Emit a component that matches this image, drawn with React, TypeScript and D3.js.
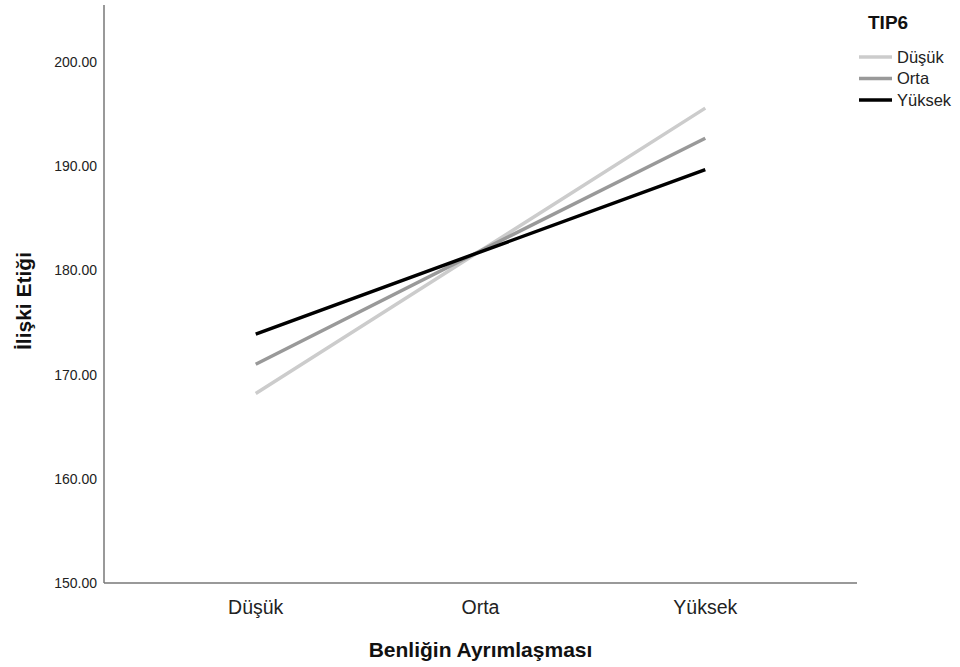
import { useEffect, useRef } from "react";
import * as d3 from "d3";

const categories = ["Düşük", "Orta", "Yüksek"];
const seriesNames = ["Düşük", "Orta", "Yüksek"];
const dusukValues = [168.2, 181.9, 195.6];
const ortaValues = [171.0, 181.9, 192.7];
const yuksekValues = [173.9, 181.8, 189.7];
const yTicks = [150, 160, 170, 180, 190, 200];
const seriesColors = ["#cccccc", "#999999", "#000000"];

const W = 960;
const H = 667;

const App = () => {
  const ref = useRef<SVGSVGElement>(null);

  useEffect(() => {
    const svg = d3.select(ref.current);
    svg.selectAll("*").remove();

    const left = 104, right = 857, top = 5, bottom = 583;
    const font = "'Liberation Sans', Arial, sans-serif";

    const x = d3.scalePoint<string>().domain(categories).range([left, right]).padding(0.675);
    const y = d3.scaleLinear().domain([150, 205.5]).range([bottom, top]);

    // axes
    svg.append("line")
      .attr("x1", left).attr("x2", left).attr("y1", top).attr("y2", bottom)
      .attr("stroke", "#777").attr("stroke-width", 1.5);
    svg.append("line")
      .attr("x1", left).attr("x2", right).attr("y1", bottom).attr("y2", bottom)
      .attr("stroke", "#777").attr("stroke-width", 1.5);

    svg.append("g").selectAll("text").data(yTicks).enter().append("text")
      .attr("x", left - 7).attr("y", (d) => y(d)).attr("dy", "0.35em")
      .attr("text-anchor", "end").attr("font-family", font).attr("font-size", 14)
      .attr("fill", "#222").text((d) => d.toFixed(2));

    svg.append("g").selectAll("text").data(categories).enter().append("text")
      .attr("x", (d) => x(d)!).attr("y", 614)
      .attr("text-anchor", "middle").attr("font-family", font).attr("font-size", 19.5)
      .attr("fill", "#222").text((d) => d);

    // axis titles
    svg.append("text")
      .attr("x", (left + right) / 2).attr("y", 657)
      .attr("text-anchor", "middle").attr("font-family", font).attr("font-size", 21)
      .attr("font-weight", "bold").attr("fill", "#111").text("Benliğin Ayrımlaşması");
    svg.append("text")
      .attr("transform", `translate(31, 301) rotate(-90)`)
      .attr("text-anchor", "middle").attr("font-family", font).attr("font-size", 21)
      .attr("font-weight", "bold").attr("fill", "#111").text("İlişki Etiği");

    // lines
    const allSeries = [dusukValues, ortaValues, yuksekValues];
    const line = d3.line<number>()
      .x((_, i) => x(categories[i])!)
      .y((d) => y(d));
    svg.append("g").selectAll("path").data(allSeries).enter().append("path")
      .attr("d", (d) => line(d))
      .attr("fill", "none")
      .attr("stroke", (_, i) => seriesColors[i])
      .attr("stroke-width", 3.5);

    // legend
    svg.append("text")
      .attr("x", 868).attr("y", 29).attr("font-family", font).attr("font-size", 19)
      .attr("font-weight", "bold").attr("fill", "#111").text("TIP6");
    const lg = svg.append("g").selectAll("g").data(seriesNames).enter().append("g")
      .attr("transform", (_, i) => `translate(859, ${57 + i * 21.5})`);
    lg.append("line")
      .attr("x1", 0).attr("x2", 33).attr("y1", 0).attr("y2", 0)
      .attr("stroke", (_, i) => seriesColors[i]).attr("stroke-width", 3.5);
    lg.append("text")
      .attr("x", 38).attr("y", 0).attr("dy", "0.35em")
      .attr("font-family", font).attr("font-size", 16.5).attr("fill", "#222")
      .text((d) => d);
  }, []);

  return <svg ref={ref} width={W} height={H} style={{ position: "absolute", left: 0, top: 0 }} />;
};

export default App;
